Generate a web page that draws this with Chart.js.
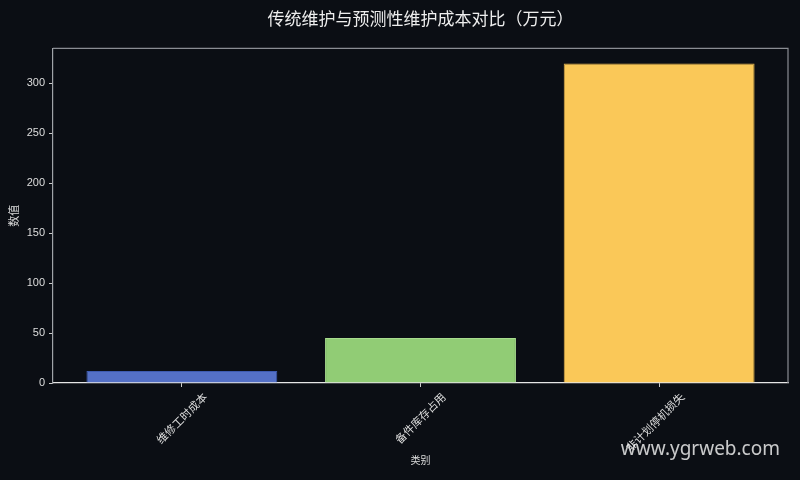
<!DOCTYPE html>
<html>
<head>
<meta charset="utf-8">
<script src="https://cdn.jsdelivr.net/npm/chart.js@4/dist/chart.umd.min.js"></script>
<style>
  html, body { margin: 0; padding: 0; background: #0b0e14; }
  #wrap { width: 800px; height: 480px; }
</style>
</head>
<body>
<div id="wrap"><canvas id="costChart" width="800" height="480"></canvas></div>
<script>
// 数据
const categories = ["维修工时成本", "备件库存占用", "非计划停机损失"];
const costValues = [12, 45, 320];
const barColors = ["#5470c6", "#91cc75", "#fac858"];
const barEdges = ["#3e5bb0", "#a8dc8e", "#e0b04a"];

const fontFamily = "'Liberation Sans', 'Noto Sans CJK SC', sans-serif";
const xLabelSize = 11;

// 外框 (上/右) 和水印
const framePlugin = {
    id: 'frame',
    beforeDraw(chart) {
        const c = chart.ctx;
        c.save();
        c.fillStyle = '#0b0e14';
        c.fillRect(0, 0, chart.width, chart.height);
        c.restore();
    },
    afterDraw(chart) {
        const c = chart.ctx;
        const a = chart.chartArea;
        c.save();
        c.strokeStyle = '#8a8d93';
        c.lineWidth = 1.2;
        c.beginPath();
        c.moveTo(a.left, a.top);
        c.lineTo(a.right, a.top);
        c.lineTo(a.right, a.bottom);
        c.stroke();
        c.font = "19px 'Noto Sans', 'DejaVu Sans', sans-serif";
        c.fillStyle = 'rgba(235,235,235,0.85)';
        c.textAlign = 'right';
        c.textBaseline = 'alphabetic';
        c.fillText('www.ygrweb.com', 780, 455);
        c.restore();
    }
};

const ctx = document.getElementById('costChart').getContext('2d');
new Chart(ctx, {
    type: 'bar',
    data: {
        labels: categories,
        datasets: [{
            data: costValues,
            backgroundColor: barColors,
            borderColor: barEdges,
            borderWidth: 1,
            barPercentage: 0.8,
            categoryPercentage: 1.0
        }]
    },
    options: {
        responsive: false,
        animation: false,
        devicePixelRatio: 1,
        layout: { padding: { left: 0, right: 12, top: 0, bottom: 0 } },
        plugins: {
            legend: { display: false },
            tooltip: { enabled: false },
            title: {
                display: true,
                fullSize: false,
                text: '传统维护与预测性维护成本对比（万元）',
                color: '#eeeeee',
                font: { family: "'Noto Sans CJK SC', sans-serif", size: 17, weight: 'normal' },
                padding: { top: 8, bottom: 20 }
            }
        },
        scales: {
            x: {
                // 类似 matplotlib 的 5% 边距
                afterUpdate(scale) {
                    scale._startValue = -0.54;
                    scale._valueRange = 3.08;
                },
                afterFit(scale) { scale.height = 97; },
                grid: { offset: false, drawOnChartArea: false, drawTicks: true, tickLength: 4, color: '#cccccc' },
                border: { color: '#e6e6e6', width: 1.2 },
                ticks: {
                    color: '#dddddd',
                    minRotation: 45,
                    maxRotation: 45,
                    padding: 4,
                    labelOffset: 24, // 旋转标签居中于刻度
                    font: { family: fontFamily, size: xLabelSize }
                },
                title: {
                    display: true,
                    text: '类别',
                    color: '#dddddd',
                    font: { family: fontFamily, size: 10 },
                    padding: { top: 0, bottom: 13 }
                }
            },
            y: {
                min: 0,
                max: 335,
                afterFit(scale) { scale.width = 53; },
                grid: { drawOnChartArea: false, drawTicks: true, tickLength: 4, color: '#cccccc' },
                border: { color: '#a0a3a8', width: 1.2 },
                ticks: {
                    stepSize: 50,
                    includeBounds: false,
                    color: '#dddddd',
                    padding: 4,
                    font: { family: fontFamily, size: 11 }
                },
                title: {
                    display: true,
                    text: '数值',
                    color: '#dddddd',
                    font: { family: fontFamily, size: 11 },
                    padding: { top: 8, bottom: 0 }
                }
            }
        }
    },
    plugins: [framePlugin]
});
</script>
</body>
</html>
